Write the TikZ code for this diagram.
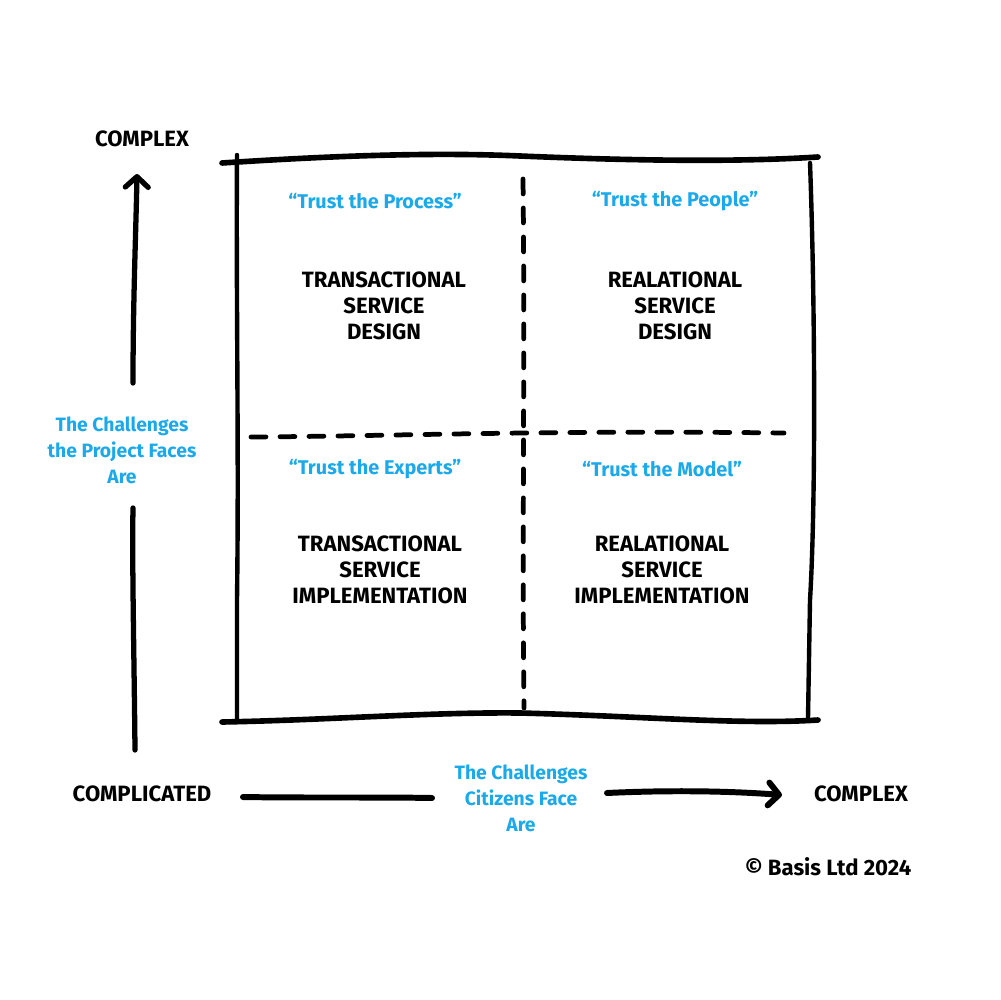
\documentclass[tikz,border=0pt]{standalone}
\usepackage{fontspec}
\setmainfont{Fira Sans}
\usetikzlibrary{arrows.meta}
\definecolor{skyblue}{HTML}{1BA9EA}
\begin{document}
\begin{tikzpicture}[x=0.02cm,y=-0.02cm,
  ink/.style={line width=3pt,line cap=round,black},
  dashline/.style={line width=2.7pt,line cap=round,dash pattern=on 8.5pt off 8pt,black},
  heading/.style={font=\fontsize{12.6}{14.8}\selectfont\bfseries,align=center,text=black,inner sep=0pt},
  quote/.style={font=\fontsize{11.3}{14.8}\selectfont\bfseries,align=center,text=skyblue,inner sep=0pt},
  axislbl/.style={font=\fontsize{11}{14.8}\selectfont\bfseries,align=center,text=skyblue,inner sep=0pt},
  tip/.style={-{Straight Barb[length=6pt,width=13pt,round]}}
]
\useasboundingbox (0,0) rectangle (1000,1000);
% frame
\draw[ink,line width=3.2pt] (222,163) .. controls (330,156) and (430,152) .. (520,156) .. controls (640,161) and (740,162) .. (818,157);
\draw[ink,line width=2.5pt] (237,155) .. controls (236,300) and (239,450) .. (237,600) -- (237,722);
\draw[ink,line width=2.5pt] (810,163) .. controls (815,300) and (816,500) .. (810,600) -- (808,718);
\draw[ink,line width=3.2pt] (222,722) .. controls (330,720) and (430,712) .. (520,713) .. controls (640,716) and (740,725) .. (818,720);
% dashed dividers
\draw[dashline] (523,179) .. controls (525,350) and (522,550) .. (524,708);
\draw[dashline] (251,437) .. controls (400,436) and (550,430) .. (784,433);
% quadrant texts
\node[quote] (q1) at (375,201) {“Trust the Process”};
\node[heading] (h1) at (384,306) {TRANSACTIONAL\\SERVICE\\DESIGN};
\node[quote] (q2) at (675,201) {“Trust the People”};
\node[heading] (h2) at (675,306) {REALATIONAL\\SERVICE\\DESIGN};
\node[quote] (q3) at (375,469) {“Trust the Experts”};
\node[heading] (h3) at (380,570) {TRANSACTIONAL\\SERVICE\\IMPLEMENTATION};
\node[quote] (q4) at (662,469) {“Trust the Model”};
\node[heading] (h4) at (662,570) {REALATIONAL\\SERVICE\\IMPLEMENTATION};
% vertical axis
\node[heading] (ytop) at (142,139) {COMPLEX};
\node[axislbl] (ylbl) at (122,450) {The Challenges\\the Project Faces\\Are};
\coordinate (ybot) at (135,750);
\coordinate (ytip) at (137,174);
\draw[ink] (ybot) .. controls (134,650) and (132,560) .. (133,508);
\draw[ink,tip] (133,383) .. controls (133,300) and (136,230) .. (ytip);
% horizontal axis
\node[heading] (xleft) at (142,794) {COMPLICATED};
\node[axislbl] (xlbl) at (521,798) {The Challenges\\Citizens Face\\Are};
\node[heading] (xright) at (861,794) {COMPLEX};
\draw[ink,line width=3.4pt] (243,797) .. controls (300,798) and (380,797) .. (432,798);
\draw[ink,line width=3.4pt,tip] (607,793) .. controls (670,790) and (730,791) .. (782,795);
% copyright
\node[heading] (copy) at (828,867) {© Basis Ltd 2024};
\end{tikzpicture}
\end{document}
